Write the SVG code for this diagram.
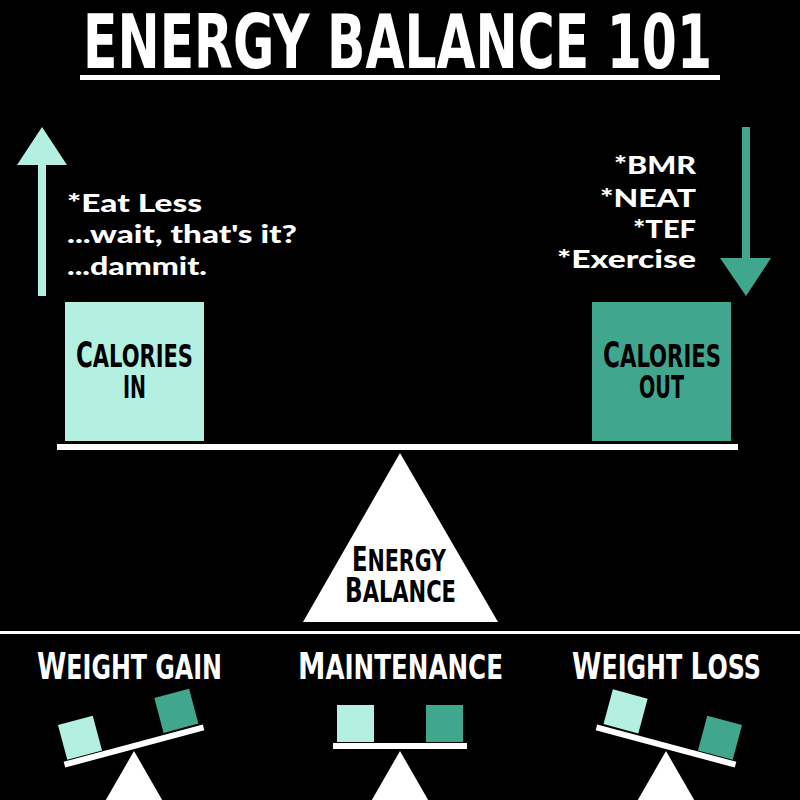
<svg xmlns="http://www.w3.org/2000/svg" width="800" height="800" viewBox="0 0 800 800">
<style>
.cond{font-family:"Liberation Sans Narrow","DejaVu Sans Condensed","Liberation Sans",sans-serif;font-weight:bold}
.body{font-family:Lato,"Noto Sans","Liberation Sans",sans-serif;font-weight:900;font-size:25px;fill:#ffffff}
.light{fill:#b3f0e1}
.dark{fill:#41a68e}
.white{fill:#ffffff}
</style>
<rect width="800" height="800" fill="#000000"/>
<g id="title">
<text class="cond" x="83" y="68" font-size="74" fill="#ffffff" textLength="629" lengthAdjust="spacingAndGlyphs">ENERGY BALANCE 101</text>
<rect x="80" y="75" width="640" height="5" class="white"/>
</g>
<g id="connectors">
<rect x="38" y="160" width="8" height="136" class="light"/>
<polygon points="42,127 67,165 17,165" class="light"/>
<rect x="742" y="127" width="8" height="135" class="dark"/>
<polygon points="720,258 771,258 746,296" class="dark"/>
</g>
<g id="in-notes">
<text class="body" x="67" y="212" textLength="135" lengthAdjust="spacingAndGlyphs">*Eat Less</text>
<text class="body" x="67" y="243" textLength="230" lengthAdjust="spacingAndGlyphs">...wait, that's it?</text>
<text class="body" x="67" y="275" textLength="140" lengthAdjust="spacingAndGlyphs">...dammit.</text>
</g>
<g id="out-notes">
<text class="body" x="696" y="174" text-anchor="end" textLength="82" lengthAdjust="spacingAndGlyphs">*BMR</text>
<text class="body" x="696" y="207" text-anchor="end" textLength="96" lengthAdjust="spacingAndGlyphs">*NEAT</text>
<text class="body" x="696" y="238" text-anchor="end" textLength="63" lengthAdjust="spacingAndGlyphs">*TEF</text>
<text class="body" x="696" y="268" text-anchor="end" textLength="139" lengthAdjust="spacingAndGlyphs">*Exercise</text>
</g>
<g id="calories-in">
<rect x="65" y="302" width="139" height="139" class="light"/>
<text class="cond" x="76" y="367" fill="#000000" font-size="32" textLength="117" lengthAdjust="spacingAndGlyphs"><tspan font-size="35">C</tspan>ALORIES</text>
<text class="cond" x="123" y="398" fill="#000000" font-size="32" textLength="23" lengthAdjust="spacingAndGlyphs">IN</text>
</g>
<g id="calories-out">
<rect x="592" y="302" width="139" height="139" class="dark"/>
<text class="cond" x="603" y="367" fill="#000000" font-size="32" textLength="118" lengthAdjust="spacingAndGlyphs"><tspan font-size="35">C</tspan>ALORIES</text>
<text class="cond" x="639" y="398" fill="#000000" font-size="32" textLength="45" lengthAdjust="spacingAndGlyphs">OUT</text>
</g>
<g id="lever">
<rect x="57" y="444" width="681" height="6" class="white"/>
</g>
<g id="energy-balance">
<polygon points="400,453 498,622 303,622" class="white"/>
<text class="cond" x="352" y="571" fill="#000000" font-size="30" textLength="94" lengthAdjust="spacingAndGlyphs"><tspan font-size="33">E</tspan>NERGY</text>
<text class="cond" x="345" y="602" fill="#000000" font-size="30" textLength="111" lengthAdjust="spacingAndGlyphs"><tspan font-size="33">B</tspan>ALANCE</text>
</g>
<rect id="divider" x="0" y="631" width="800" height="3" class="white"/>
<g id="weight-gain">
<text class="cond" x="37" y="679" fill="#ffffff" font-size="34" textLength="185" lengthAdjust="spacingAndGlyphs"><tspan font-size="38">W</tspan>EIGHT GAIN</text>
<polygon points="134,751 180,831 88,831" class="white"/>
<g transform="translate(134,746) rotate(-15)">
<rect x="-72" y="-3" width="144" height="6" class="white"/>
<rect x="-68" y="-40" width="36" height="36" class="light"/>
<rect x="32" y="-41" width="36" height="36" class="dark"/>
</g>
</g>
<g id="maintenance">
<text class="cond" x="298" y="679" fill="#ffffff" font-size="34" textLength="205" lengthAdjust="spacingAndGlyphs"><tspan font-size="38">M</tspan>AINTENANCE</text>
<polygon points="400,751 446,831 354,831" class="white"/>
<rect x="333" y="743" width="134" height="6" class="white"/>
<rect x="337" y="705" width="37" height="37" class="light"/>
<rect x="426" y="705" width="37" height="37" class="dark"/>
</g>
<g id="weight-loss">
<text class="cond" x="572" y="679" fill="#ffffff" font-size="34" textLength="189" lengthAdjust="spacingAndGlyphs"><tspan font-size="38">W</tspan>EIGHT <tspan font-size="38">L</tspan>OSS</text>
<polygon points="666,751 712,831 620,831" class="white"/>
<g transform="translate(666,746) rotate(15)">
<rect x="-72" y="-3" width="144" height="6" class="white"/>
<rect x="-66" y="-41" width="36" height="36" class="light"/>
<rect x="32" y="-40" width="36" height="36" class="dark"/>
</g>
</g>
</svg>
